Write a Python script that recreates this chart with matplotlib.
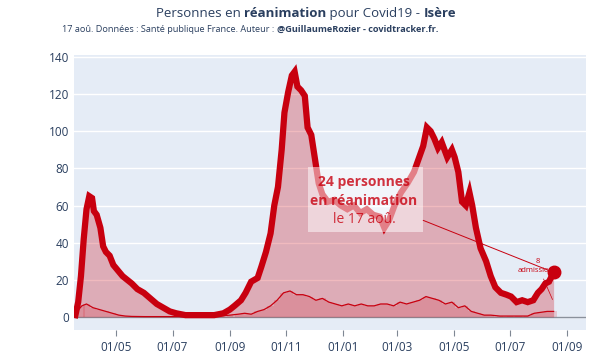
import numpy as np
import pandas as pd
import matplotlib
matplotlib.use("Agg")
import matplotlib.pyplot as plt
import matplotlib.dates as mdates
from matplotlib.patches import Rectangle

#----- DATA --------------------------------------------------------
rea_dates = [
    "2020-03-18", "2020-03-21", "2020-03-24", "2020-03-27", "2020-03-30",
    "2020-04-02", "2020-04-05", "2020-04-07", "2020-04-10", "2020-04-14",
    "2020-04-17", "2020-04-20", "2020-04-24", "2020-04-28", "2020-05-03",
    "2020-05-08", "2020-05-13", "2020-05-18", "2020-05-24", "2020-05-31",
    "2020-06-07", "2020-06-14", "2020-06-21", "2020-06-28", "2020-07-05",
    "2020-07-15", "2020-07-25", "2020-08-05", "2020-08-15", "2020-08-25",
    "2020-09-01", "2020-09-06", "2020-09-13", "2020-09-18", "2020-09-24",
    "2020-10-01", "2020-10-05", "2020-10-10", "2020-10-15", "2020-10-19",
    "2020-10-23", "2020-10-27", "2020-10-30", "2020-11-03", "2020-11-07",
    "2020-11-10", "2020-11-13", "2020-11-17", "2020-11-21", "2020-11-24",
    "2020-11-28", "2020-12-02", "2020-12-06", "2020-12-10", "2020-12-16",
    "2020-12-23", "2020-12-30", "2021-01-06", "2021-01-13", "2021-01-20",
    "2021-01-27", "2021-02-03", "2021-02-10", "2021-02-15", "2021-02-20",
    "2021-02-26", "2021-03-05", "2021-03-12", "2021-03-19", "2021-03-24",
    "2021-03-29", "2021-04-02", "2021-04-06", "2021-04-10", "2021-04-14",
    "2021-04-18", "2021-04-24", "2021-04-29", "2021-05-02", "2021-05-06",
    "2021-05-10", "2021-05-14", "2021-05-18", "2021-05-21", "2021-05-25",
    "2021-05-30", "2021-06-05", "2021-06-10", "2021-06-15", "2021-06-21",
    "2021-06-27", "2021-07-02", "2021-07-08", "2021-07-14", "2021-07-20",
    "2021-07-26", "2021-07-31", "2021-08-04", "2021-08-08", "2021-08-12",
    "2021-08-15", "2021-08-17",
]
rea_values = [
    1, 8, 22, 42, 58,
    65, 64, 57, 55, 48,
    38, 35, 33, 28, 25,
    22, 20, 18, 15, 13,
    10, 7, 5, 3, 2,
    1, 1, 1, 1, 2,
    4, 6, 9, 13, 19,
    21, 27, 35, 45, 60,
    70, 90, 110, 121, 130,
    132, 124, 122, 119, 102,
    98, 85, 72, 66, 62,
    63, 60, 58, 60, 56,
    58, 55, 54, 48, 52,
    60, 67, 72, 78, 85,
    92, 102, 100, 96, 91,
    94, 86, 90, 86, 78,
    62, 60, 67, 60, 48,
    37, 30, 22, 16, 13,
    12, 11, 8, 9, 8,
    9, 13, 15, 18, 19,
    22, 24,
]

adm_dates = [
    "2020-03-18", "2020-03-25", "2020-03-30", "2020-04-06", "2020-04-13",
    "2020-04-20", "2020-04-27", "2020-05-04", "2020-05-11", "2020-05-18",
    "2020-06-01", "2020-06-15", "2020-07-01", "2020-07-15", "2020-08-01",
    "2020-08-20", "2020-09-01", "2020-09-10", "2020-09-17", "2020-09-24",
    "2020-10-01", "2020-10-08", "2020-10-15", "2020-10-22", "2020-10-29",
    "2020-11-05", "2020-11-12", "2020-11-19", "2020-11-26", "2020-12-03",
    "2020-12-10", "2020-12-17", "2020-12-24", "2020-12-31", "2021-01-07",
    "2021-01-14", "2021-01-21", "2021-01-28", "2021-02-04", "2021-02-11",
    "2021-02-18", "2021-02-25", "2021-03-04", "2021-03-11", "2021-03-18",
    "2021-03-25", "2021-04-01", "2021-04-08", "2021-04-15", "2021-04-22",
    "2021-04-29", "2021-05-06", "2021-05-13", "2021-05-20", "2021-05-27",
    "2021-06-03", "2021-06-10", "2021-06-20", "2021-07-01", "2021-07-10",
    "2021-07-20", "2021-07-27", "2021-08-03", "2021-08-10", "2021-08-17",
]
adm_values = [
    2, 6, 7, 5, 4,
    3, 2, 1, 0.5, 0.3,
    0.2, 0.2, 0.2, 0.2, 0.2,
    0.5, 1, 1.5, 2, 1.5,
    3, 4, 6, 9, 13,
    14, 12, 12, 11, 9,
    10, 8, 7, 6, 7,
    6, 7, 6, 6, 7,
    7, 6, 8, 7, 8,
    9, 11, 10, 9, 7,
    8, 5, 6, 3, 2,
    1, 1, 0.5, 0.5, 0.5,
    0.5, 2, 2.5, 3, 3,
]

last_label = "17 aoû."
last_adm = 8

#----- STYLE -------------------------------------------------------
RED = "#c8000f"
FONT = ["Open Sans", "DejaVu Sans"]
TXT = "#2a3f5f"
plt.rcParams["font.family"] = FONT

rea_x = pd.to_datetime(rea_dates)
adm_x = pd.to_datetime(adm_dates)

fig = plt.figure(figsize=(6.12, 3.59), dpi=100)
ax = fig.add_axes([0.1217, 0.0808, 0.8358, 0.7660])
ax.set_facecolor("#e5ecf6")

# admissions bars + 7 day mean
ax.bar(adm_x, adm_values, width=7, color="#d9434e", alpha=0.22, linewidth=0, zorder=2)
ax.plot(adm_x, adm_values, color=RED, lw=0.9, zorder=3)

# patients in ICU
ax.fill_between(rea_x, rea_values, 0, color=RED, alpha=0.27, linewidth=0, zorder=2)
ax.plot(rea_x, rea_values, color=RED, lw=4.5, solid_joinstyle="miter", zorder=4)
ax.plot(rea_x[-1], rea_values[-1], "o", color=RED, ms=9, zorder=7)

ax.axhline(0, color="#8a919c", lw=1, zorder=1)

ax.set_xlim(pd.Timestamp("2020-03-17"), pd.Timestamp("2021-09-21"))
ax.set_ylim(-7, 141)
ax.set_yticks(range(0, 141, 20))
ax.yaxis.grid(True, color="white", lw=1)
ax.set_axisbelow(True)
ax.xaxis.set_major_locator(mdates.MonthLocator(bymonth=[1, 3, 5, 7, 9, 11]))
ax.xaxis.set_major_formatter(mdates.DateFormatter("%d/%m"))
ax.tick_params(axis="y", length=0, pad=4, labelsize=8.5, labelcolor=TXT)
ax.tick_params(axis="x", length=4, color="#7f8793", pad=4, labelsize=8.5, labelcolor=TXT)
for s in ax.spines.values():
    s.set_visible(False)

# big annotation box
bx0, bx1 = mdates.date2num(pd.Timestamp("2020-11-24")), mdates.date2num(pd.Timestamp("2021-03-29"))
ax.add_patch(Rectangle((bx0, 46), bx1 - bx0, 34.5, fc="white", ec="none", alpha=0.5, zorder=5))
ax.annotate("", xy=(rea_x[-1], rea_values[-1]), xytext=(pd.Timestamp("2021-03-29"), 52),
            arrowprops=dict(arrowstyle="-", color=RED, lw=0.7, shrinkA=0, shrinkB=5), zorder=5)
cx, cy = pd.Timestamp("2021-01-24"), 62.5
ax.annotate("24 personnes", (cx, cy), xytext=(0, 13.5), textcoords="offset points",
            ha="center", va="center", fontsize=10, fontweight="bold", color=RED, alpha=0.8, zorder=6)
ax.annotate("en réanimation", (cx, cy), xytext=(0, 0), textcoords="offset points",
            ha="center", va="center", fontsize=10, fontweight="bold", color=RED, alpha=0.8, zorder=6)
ax.annotate("le " + last_label, (cx, cy), xytext=(0, -13.5), textcoords="offset points",
            ha="center", va="center", fontsize=10, color=RED, alpha=0.8, zorder=6)

# small admissions annotation (partly hidden by the marker)
ax.annotate(f"{last_adm}\nadmissions", xy=(rea_x[-1], last_adm),
            xytext=(pd.Timestamp("2021-07-31"), 27.5), textcoords="data",
            ha="center", va="center", fontsize=5.5, color=RED, linespacing=1.3,
            arrowprops=dict(arrowstyle="-", color=RED, lw=0.5, shrinkA=2),
            zorder=5)

#----- TITLE -------------------------------------------------------
def rich_text(x_px, y_px, parts, size, ha="center"):
    renderer = fig.canvas.get_renderer()
    texts = [fig.text(0, 0, s, fontsize=size, fontweight=w, color=TXT,
                      va="baseline", transform=None) for s, w in parts]
    widths = [t.get_window_extent(renderer).width for t in texts]
    x0 = x_px - sum(widths) / 2 if ha == "center" else x_px
    H = fig.get_size_inches()[1] * fig.dpi
    for t, w in zip(texts, widths):
        t.set_position((x0, H - y_px))
        x0 += w

rich_text(306, 17, [("Personnes en ", "normal"), ("réanimation", "bold"),
                    (" pour Covid19 - ", "normal"), ("Isère", "bold")], 9.5)
rich_text(62, 32, [("17 aoû. Données : Santé publique France. Auteur : ", "normal"),
                   ("@GuillaumeRozier - covidtracker.fr.", "bold")], 6.6, ha="left")

fig.savefig("out.png", dpi=100)
